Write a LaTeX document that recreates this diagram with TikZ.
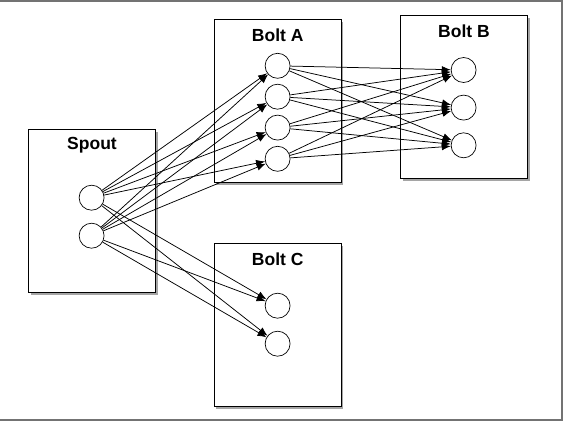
\documentclass[tikz,border=0pt]{standalone}
\usepackage{fontspec}
\setmainfont{Liberation Sans}
\usetikzlibrary{arrows.meta, positioning, shadows}

\tikzset{
    box/.style={draw, rectangle, line width=1pt, fill=white, minimum width=127pt, minimum height=163pt,
        drop shadow={shadow xshift=2pt, shadow yshift=-3pt, opacity=0.5, fill=black!70}},
    title/.style={font=\fontsize{17.5}{20}\selectfont\bfseries},
    task/.style={draw, circle, line width=0.7pt, minimum size=25pt, inner sep=0pt},
    flow/.style={-{Latex[length=9pt,width=7pt]}, line width=0.75pt}
}

\begin{document}
\begin{tikzpicture}[x=1pt, y=-1pt]
    \useasboundingbox (0,0) rectangle (563,421);
    \fill[black!55] (0,0) rectangle (563,1.5);
    \fill[black!55] (560.5,0) rectangle (563,421);
    \fill[black!55] (0,419) rectangle (563,421);

    % components
    \node (spout) at (92,210.5) [box] {};
    \node (boltA) at (277.7,100.7) [box] {};
    \node (boltB) at (464,96.7) [box] {};
    \node (boltC) at (277.7,324.5) [box] {};

    \node (spoutT) at ([yshift=-16.5pt]spout.north) [title] {Spout};
    \node (boltAT) at ([yshift=-16.5pt]boltA.north) [title] {Bolt A};
    \node (boltBT) at ([yshift=-16.5pt]boltB.north) [title] {Bolt B};
    \node (boltCT) at ([yshift=-16.5pt]boltC.north) [title] {Bolt C};

    % tasks
    \node (s1) at (91.6,197.7) [task] {};
    \node (s2) at (91.6,235.7) [task] {};
    \foreach \i/\y in {1/65.8, 2/96.7, 3/127.6, 4/158.8}
        \node (a\i) at (277.6,\y) [task] {};
    \foreach \i/\y in {1/70, 2/107.6, 3/145.3}
        \node (b\i) at (463.6,\y) [task] {};
    \node (c1) at (277.6,305.7) [task] {};
    \node (c2) at (277.6,343.7) [task] {};

    % streams
    \foreach \i in {1,2}
        \foreach \j in {1,...,4}
            \draw[flow] (s\i) -- (a\j);
    \foreach \i in {1,2}
        \foreach \j in {1,2}
            \draw[flow] (s\i) -- (c\j);
    \foreach \i in {1,...,4}
        \foreach \j in {1,2,3}
            \draw[flow] (a\i) -- (b\j);
\end{tikzpicture}
\end{document}
